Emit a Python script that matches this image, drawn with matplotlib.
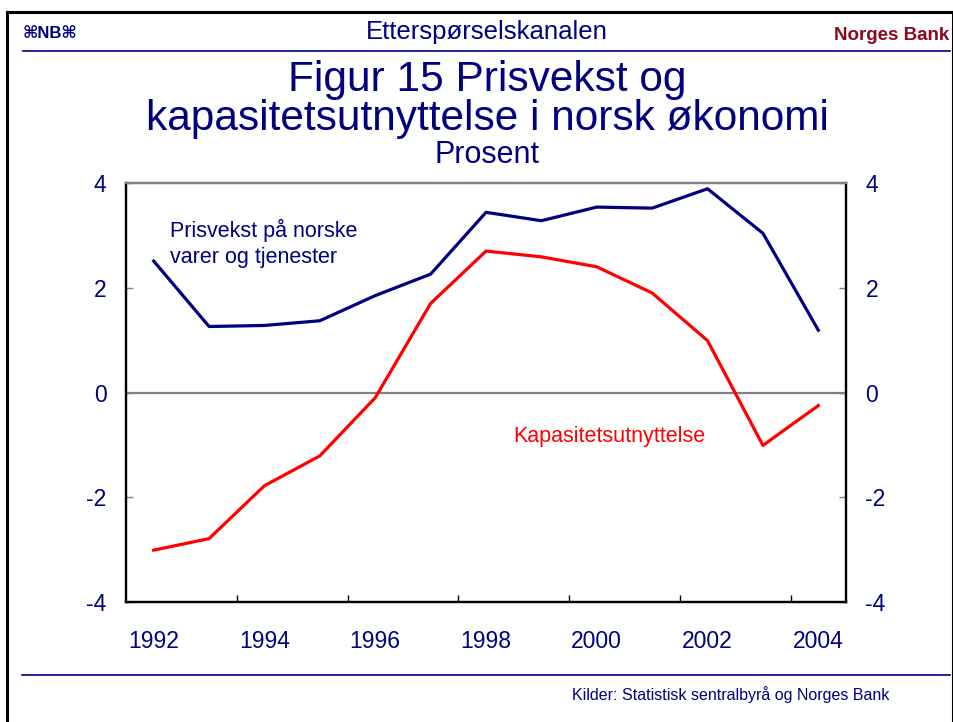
import numpy as np
from matplotlib import pyplot as plt
from matplotlib.lines import Line2D

plt.rcParams['font.family'] = ['Liberation Sans', 'DejaVu Sans']
plt.rcParams['axes.unicode_minus'] = False

years = [1992, 1993, 1994, 1995, 1996, 1997, 1998, 1999, 2000, 2001, 2002, 2003, 2004]
prisvekst = [2.51, 1.26, 1.28, 1.37, 1.85, 2.26, 3.44, 3.28, 3.54, 3.52, 3.89, 3.04, 1.19]
kapasitet = [-3.01, -2.79, -1.78, -1.21, -0.10, 1.70, 2.70, 2.59, 2.40, 1.90, 0.99, -1.01, -0.25]
xlabels = ['1992', '1994', '1996', '1998', '2000', '2002', '2004']
yticks = [-4, -2, 0, 2, 4]

navy = '#000080'
red = '#ff0000'
grey = '#808080'
W, H = 954, 722

fig = plt.figure(figsize=(9.54, 7.22), dpi=100)

def fx(px):
    return px / W

def fy(py):
    return 1 - py / H

# slide frame
for xs, ys in [([7, 7], [12, 722]), ([7, 953], [12, 12]), ([953, 953], [12, 722])]:
    fig.add_artist(Line2D([fx(v) for v in xs], [fy(v) for v in ys], color='black', lw=2.2))
fig.add_artist(Line2D([fx(23), fx(950)], [fy(51), fy(51)], color=navy, lw=1.2))
fig.add_artist(Line2D([fx(22), fx(950)], [fy(675), fy(675)], color=navy, lw=1.2))

fig.text(fx(23), fy(34), '⌘NB⌘', color=navy, fontsize=12, fontweight='bold', ha='left', va='center')
fig.text(fx(487), fy(32), 'Etterspørselskanalen', color=navy, fontsize=18.5, ha='center', va='center')
fig.text(fx(949), fy(36), 'Norges Bank', color='#8b0a1e', fontsize=13.5, fontweight='bold', ha='right', va='center')
fig.text(fx(487), fy(80), 'Figur 15 Prisvekst og', color=navy, fontsize=30.5, ha='center', va='center')
fig.text(fx(487), fy(119), 'kapasitetsutnyttelse i norsk økonomi', color=navy, fontsize=30.5, ha='center', va='center')
fig.text(fx(487), fy(155), 'Prosent', color=navy, fontsize=22, ha='center', va='center')
fig.text(fx(889), fy(695), 'Kilder: Statistisk sentralbyrå og Norges Bank', color=navy, fontsize=11.5, ha='right', va='center')

ax = fig.add_axes([fx(126), fy(602), fx(846) - fx(126), fy(183) - fy(602)])
ax.axhline(0, color=grey, lw=1.6, zorder=1)
ax.plot(years, prisvekst, color=navy, lw=2.3, zorder=3)
ax.plot(years, kapasitet, color=red, lw=2.3, zorder=3)

ax.set_xlim(1991.5, 2004.5)
ax.set_ylim(-4, 4)
ax.set_xticks(years[::2])
ax.set_xticklabels(xlabels)
ax.set_xticks(np.arange(1993.5, 2004, 2), minor=True)
ax.tick_params(axis='x', which='major', length=0, pad=20, labelsize=16.5, labelcolor=navy)
ax.tick_params(axis='x', which='minor', direction='in', length=5, width=1, color='black')
ax.set_yticks(yticks)
ax.tick_params(axis='y', direction='in', length=5, width=1, color=grey, pad=14, labelsize=16.5, labelcolor=navy)

ax2 = ax.twinx()
ax2.set_ylim(-4, 4)
ax2.set_yticks(yticks)
ax2.tick_params(axis='y', direction='in', length=5, width=1, color=grey, pad=14, labelsize=16.5, labelcolor=navy)

for a in (ax, ax2):
    for s in ['left', 'right', 'bottom']:
        a.spines[s].set_color('black')
        a.spines[s].set_linewidth(1.6)
    a.spines['top'].set_color(grey)
    a.spines['top'].set_linewidth(1.6)

ax.text(1992.29, 2.85, 'Prisvekst på norske\nvarer og tjenester', color=navy, fontsize=15.5,
        ha='left', va='center', linespacing=1.3)
ax.text(1998.49, -0.84, 'Kapasitetsutnyttelse', color=red, fontsize=15.5, ha='left', va='center')

fig.savefig('out.png', dpi=100)
